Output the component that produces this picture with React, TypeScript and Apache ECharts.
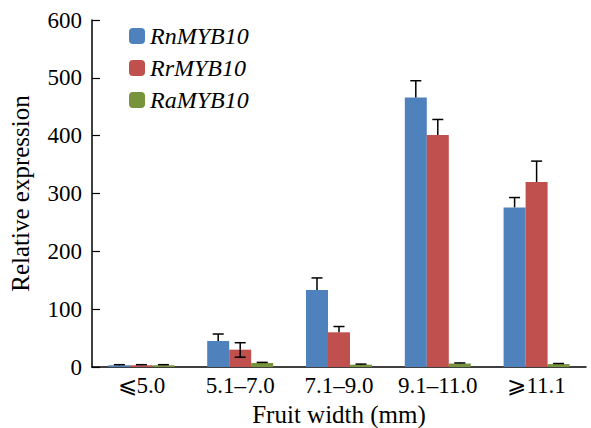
import React, { useEffect, useRef } from "react";
import * as echarts from "echarts";

const categories = ["⩽5.0", "5.1–7.0", "7.1–9.0", "9.1–11.0", "⩾11.1"];
const seriesNames = ["RnMYB10", "RrMYB10", "RaMYB10"];
const rnValues = [3, 45, 133, 466, 276];
const rrValues = [3, 30, 60, 401, 320];
const raValues = [3, 7, 4, 6, 5];
const rnErrUp = [1, 12, 21, 29, 17];
const rrErrUp = [1, 12, 10, 27, 36];
const raErrUp = [1, 1, 1, 1, 1];
const rnErrDown = [0, 0, 0, 0, 0];
const rrErrDown = [0, 13, 0, 0, 0];
const raErrDown = [0, 0, 0, 0, 0];
const yTicks = [0, 100, 200, 300, 400, 500, 600];

const colors = ["#4F81BD", "#C0504D", "#77933C"];
const FONT = "Liberation Serif";

export default function App() {
  const ref = useRef<HTMLDivElement>(null);
  useEffect(() => {
    if (!ref.current) return;
    const chart = echarts.init(ref.current, null, { renderer: "svg" });
    const values = [rnValues, rrValues, raValues];
    const ups = [rnErrUp, rrErrUp, raErrUp];
    const downs = [rnErrDown, rrErrDown, raErrDown];
    const barW = 22;
    const errData: number[][] = [];
    values.forEach((vals, s) => {
      vals.forEach((v, i) => {
        errData.push([i, s, v, ups[s][i], downs[s][i]]);
      });
    });
    chart.setOption({
      animation: false,
      textStyle: { fontFamily: FONT },
      grid: { left: 92, right: 5, top: 20, bottom: 61, outerBoundsMode: "none", containLabel: false },
      legend: {
        orient: "vertical",
        left: 124,
        top: 19,
        itemWidth: 16,
        itemHeight: 16,
        itemGap: 8,
        data: seriesNames,
        textStyle: { fontFamily: FONT, fontStyle: "italic", fontSize: 24, color: "#000" },
      },
      xAxis: {
        type: "category",
        data: categories,
        name: "Fruit width (mm)",
        nameLocation: "middle",
        nameGap: 35,
        nameMoveOverlap: false,
        nameTextStyle: { fontFamily: FONT, fontSize: 25, color: "#000" },
        axisLine: { lineStyle: { color: "#000", width: 1.5 } },
        axisTick: { show: false },
        axisLabel: { fontFamily: FONT, fontSize: 23, color: "#000", margin: 7, interval: 0, hideOverlap: false },
      },
      yAxis: {
        type: "value",
        min: yTicks[0],
        max: yTicks[yTicks.length - 1],
        interval: 100,
        name: "Relative expression",
        nameLocation: "middle",
        nameGap: 59,
        nameMoveOverlap: false,
        nameTextStyle: { fontFamily: FONT, fontSize: 25, color: "#000" },
        axisLine: { show: true, lineStyle: { color: "#000", width: 1.5 } },
        axisTick: { show: true, inside: true, length: 8, lineStyle: { color: "#000", width: 1.2 } },
        axisLabel: { fontFamily: FONT, fontSize: 23, color: "#000", margin: 10 },
        splitLine: { show: false },
      },
      series: [
        ...values.map((vals, s) => ({
          name: seriesNames[s],
          type: "bar",
          data: vals,
          barWidth: barW,
          barGap: "0%",
          itemStyle: { color: colors[s] },
          z: 2,
        })),
        {
          type: "custom",
          data: errData,
          z: 5,
          silent: true,
          renderItem: (params: any, api: any) => {
            const cat = api.value(0);
            const s = api.value(1);
            const v = api.value(2);
            const up = api.value(3);
            const down = api.value(4);
            const base = api.coord([cat, v]);
            const x = base[0] + (s - 1) * barW;
            const yTop = api.coord([cat, v + up])[1];
            const yBot = api.coord([cat, v - down])[1];
            const y0 = base[1];
            const half = 5.5;
            const style = { stroke: "#000", lineWidth: 1.5 };
            const children: any[] = [
              { type: "line", shape: { x1: x, y1: y0, x2: x, y2: yTop }, style },
              { type: "line", shape: { x1: x - half, y1: yTop, x2: x + half, y2: yTop }, style },
            ];
            if (down > 0) {
              children.push({ type: "line", shape: { x1: x, y1: y0, x2: x, y2: yBot }, style });
              children.push({ type: "line", shape: { x1: x - half, y1: yBot, x2: x + half, y2: yBot }, style });
            }
            return { type: "group", children };
          },
        },
      ],
    });
    return () => chart.dispose();
  }, []);
  return <div ref={ref} style={{ width: 591, height: 428, position: "absolute", left: 0, top: 0, background: "#fff" }} />;
}
